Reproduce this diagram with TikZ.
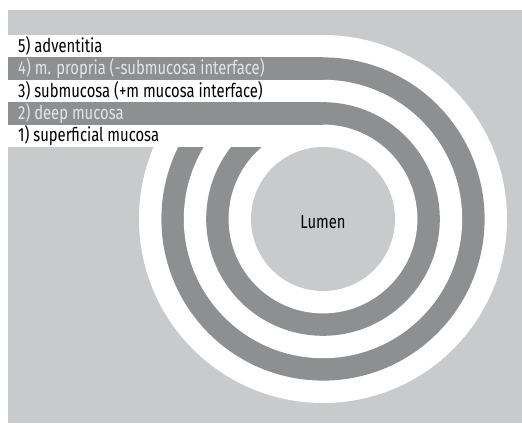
\documentclass[tikz,border=0pt]{standalone}
\usepackage{fontspec}
\setmainfont{Fira Sans}[FakeStretch=0.78]
\usepackage{tikz}
\definecolor{wallgray}{HTML}{C9CACC}
\definecolor{layerdark}{HTML}{8E8F91}
\definecolor{labellight}{HTML}{E4E4E4}
\tikzset{
  layerlabel/.style={anchor=west,inner sep=0pt,
                     font=\fontsize{19}{19}\selectfont},
}

\begin{document}
\begin{tikzpicture}[x=1pt,y=-1pt]
  \useasboundingbox (0,0) rectangle (522,423);
  \fill[wallgray] (8,10) rectangle (522,423);
  \coordinate (c) at (323,219);
  % rings, outer to inner
  \foreach \i/\col in {5/white,4/layerdark,3/white,2/layerdark,1/white}{
    \fill[\col] (c) circle ({72+\i*22.4});
  }
  \fill[wallgray] (c) circle (72);
  % straight bands running into the rings
  \foreach \i/\col/\tcol/\t in {
    5/white/black/{5) adventitia},
    4/layerdark/labellight/{4) m. propria (-submucosa interface)},
    3/white/black/{3) submucosa (+m mucosa interface)},
    2/layerdark/labellight/{2) deep mucosa},
    1/white/black/{1) superficial mucosa}
  }{
    \fill[\col] (8,{147-\i*22.4}) rectangle (c |- 0,{147-(\i-1)*22.4});
    \node[layerlabel,text=\tcol] (l\i) at (18,{147-(\i-0.5)*22.4}) {\t};
  }
  \node[font=\fontsize{19}{19}\selectfont] (lumen) at (323,222) {Lumen};
\end{tikzpicture}
\end{document}
